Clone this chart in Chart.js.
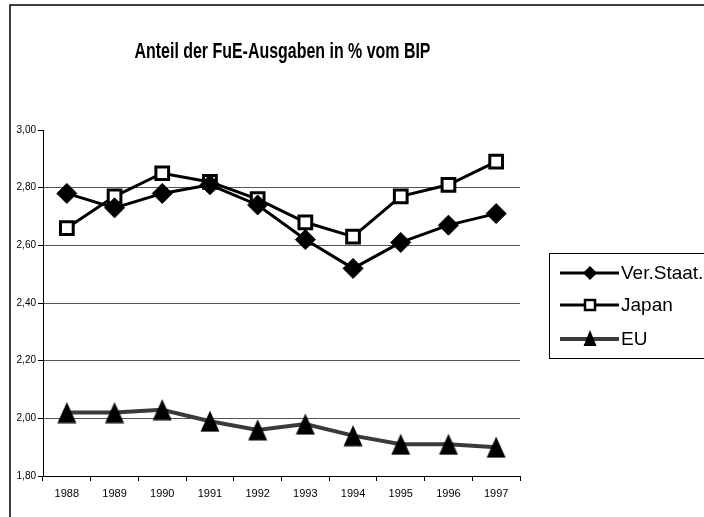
<!DOCTYPE html>
<html>
<head>
<meta charset="utf-8">
<script src="https://cdn.jsdelivr.net/npm/chart.js@4/dist/chart.umd.min.js"></script>
<style>
  html, body { margin: 0; padding: 0; background: #fff; }
  canvas { display: block; }
</style>
</head>
<body>
<canvas id="chart" width="704" height="517"></canvas>
<script>
// Daten
const years = ['1988', '1989', '1990', '1991', '1992', '1993', '1994', '1995', '1996', '1997'];
const usaValues = [2.78, 2.73, 2.78, 2.81, 2.74, 2.62, 2.52, 2.61, 2.67, 2.71];
const japanValues = [2.66, 2.77, 2.85, 2.82, 2.76, 2.68, 2.63, 2.77, 2.81, 2.89];
const euValues = [2.02, 2.02, 2.03, 1.99, 1.96, 1.98, 1.94, 1.91, 1.91, 1.90];
const yTicks = [1.8, 2.0, 2.2, 2.4, 2.6, 2.8, 3.0];
const seriesNames = ['Ver.Staat.', 'Japan', 'EU'];
const chartTitle = 'Anteil der FuE-Ausgaben in % vom BIP';

const FONT = "'Liberation Sans', Arial, sans-serif";

// Dreieck als eigenes Punktbild (etwas höher als gleichseitig)
function makeTriangle(w, h) {
    const c = document.createElement('canvas');
    c.width = w; c.height = h;
    const g = c.getContext('2d');
    g.fillStyle = '#000';
    g.beginPath();
    g.moveTo(w / 2, 0.5);
    g.lineTo(w - 0.5, h - 0.5);
    g.lineTo(0.5, h - 0.5);
    g.closePath();
    g.fill();
    return c;
}
const triangleBig = makeTriangle(20, 22);

// Rahmen, Titel und Legende
const decorPlugin = {
    id: 'decor',
    beforeDraw(chart) {
        const ctx = chart.ctx;
        ctx.save();
        ctx.fillStyle = '#fff';
        ctx.fillRect(0, 0, chart.width, chart.height);
        ctx.strokeStyle = '#000';
        ctx.lineWidth = 1.5;
        ctx.beginPath();
        ctx.moveTo(10, chart.height);
        ctx.lineTo(10, 5);
        ctx.lineTo(chart.width, 5);
        ctx.stroke();
        ctx.restore();
    },
    afterDraw(chart) {
        const ctx = chart.ctx;
        ctx.save();

        // Titel, horizontal gestaucht wie im Original
        ctx.font = 'bold 22px ' + FONT;
        ctx.fillStyle = '#000';
        ctx.textBaseline = 'alphabetic';
        const tw = ctx.measureText(chartTitle).width;
        const sx = 296 / tw;
        ctx.translate(282.5, 58);
        ctx.scale(sx, 1);
        ctx.textAlign = 'center';
        ctx.fillText(chartTitle, 0, 0);
        ctx.setTransform(1, 0, 0, 1, 0, 0);

        // Legende
        ctx.strokeStyle = '#000';
        ctx.lineWidth = 1;
        ctx.strokeRect(549.5, 253.5, 170, 105);
        const rows = [273, 305, 339];
        ctx.font = '19px ' + FONT;
        ctx.textAlign = 'left';
        ctx.textBaseline = 'middle';
        rows.forEach((y, i) => {
            const ds = chart.data.datasets[i];
            ctx.strokeStyle = ds.borderColor;
            ctx.lineWidth = ds.borderWidth;
            ctx.beginPath();
            ctx.moveTo(560, y);
            ctx.lineTo(619, y);
            ctx.stroke();
            ctx.fillStyle = '#000';
            if (i === 0) {
                ctx.beginPath();
                ctx.moveTo(590, y - 7);
                ctx.lineTo(597, y);
                ctx.lineTo(590, y + 7);
                ctx.lineTo(583, y);
                ctx.closePath();
                ctx.fill();
            } else if (i === 1) {
                ctx.fillStyle = '#fff';
                ctx.strokeStyle = '#000';
                ctx.lineWidth = 2.5;
                ctx.fillRect(585, y - 5, 10, 10);
                ctx.strokeRect(585, y - 5, 10, 10);
            } else {
                ctx.beginPath();
                ctx.moveTo(590, y - 9);
                ctx.lineTo(596.5, y + 7);
                ctx.lineTo(583.5, y + 7);
                ctx.closePath();
                ctx.fill();
            }
            ctx.fillStyle = '#000';
            ctx.fillText(seriesNames[i], 621, y + 1);
        });
        ctx.restore();
    }
};

new Chart(document.getElementById('chart'), {
    type: 'line',
    data: {
        labels: years,
        datasets: [
            {
                label: seriesNames[0],
                data: usaValues,
                borderColor: '#000',
                borderWidth: 3,
                tension: 0,
                pointStyle: 'rectRot',
                pointRadius: 10,
                pointBackgroundColor: '#000',
                pointBorderColor: '#000',
                pointBorderWidth: 1
            },
            {
                label: seriesNames[1],
                data: japanValues,
                borderColor: '#000',
                borderWidth: 3,
                tension: 0,
                pointStyle: 'rect',
                pointRadius: 9,
                pointBackgroundColor: '#fff',
                pointBorderColor: '#000',
                pointBorderWidth: 3
            },
            {
                label: seriesNames[2],
                data: euValues,
                borderColor: '#3a3a3a',
                borderWidth: 4,
                tension: 0,
                pointStyle: triangleBig,
                pointRadius: 10
            }
        ]
    },
    options: {
        responsive: false,
        animation: false,
        events: [],
        layout: { padding: { top: 130, right: 184, bottom: 0, left: 0 } },
        plugins: {
            legend: { display: false },
            title: { display: false },
            tooltip: { enabled: false }
        },
        scales: {
            x: {
                offset: true,
                afterFit: s => { s.height = 41; },
                grid: {
                    offset: true,
                    drawOnChartArea: false,
                    drawTicks: true,
                    tickLength: 5,
                    tickColor: '#000'
                },
                border: { color: '#000', width: 1 },
                ticks: {
                    color: '#000',
                    padding: 6,
                    maxRotation: 0,
                    font: { family: FONT, size: 11 }
                }
            },
            y: {
                min: 1.8,
                max: 3.0,
                afterFit: s => { s.width = 43; },
                afterBuildTicks: s => { s.ticks = yTicks.map(v => ({ value: v })); },
                grid: {
                    color: ctx => (ctx.tick && (ctx.tick.value >= 2.99 || ctx.tick.value <= 1.81)) ? 'rgba(0,0,0,0)' : '#555',
                    lineWidth: 1,
                    drawTicks: true,
                    tickLength: 5,
                    tickColor: '#000'
                },
                border: { color: '#000', width: 1 },
                ticks: {
                    color: '#000',
                    padding: 2,
                    font: { family: FONT, size: 10 },
                    callback: v => Number(v).toFixed(2).replace('.', ',')
                }
            }
        }
    },
    plugins: [decorPlugin]
});
</script>
</body>
</html>
